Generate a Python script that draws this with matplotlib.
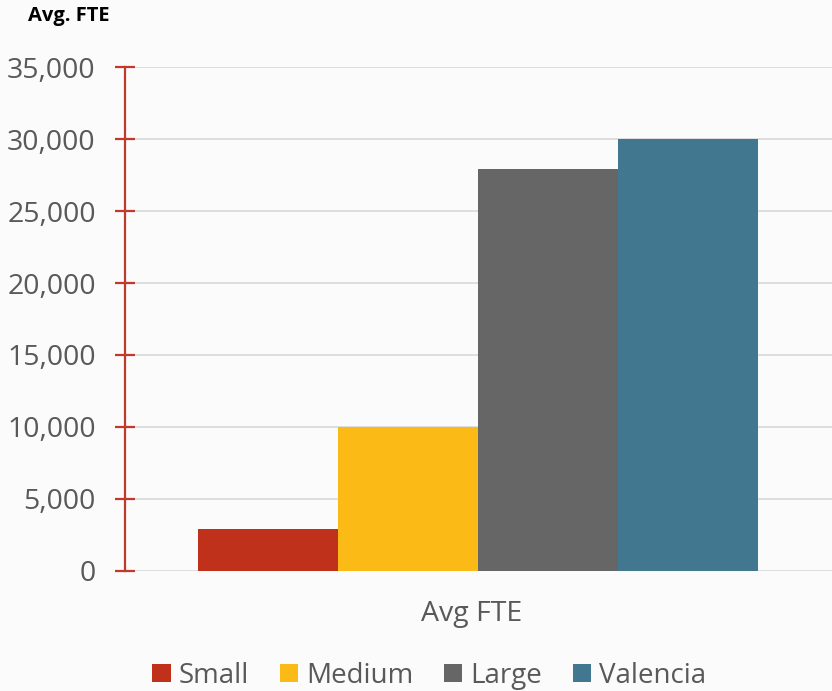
import matplotlib.pyplot as plt
import numpy as np

plt.rcParams['font.family'] = ['Open Sans', 'DejaVu Sans']

categories = ["Avg FTE"]
series_names = ["Small", "Medium", "Large", "Valencia"]
series_values = [2900, 10000, 27900, 30000]
colors = ["#BF311A", "#FBBA16", "#666666", "#41778F"]
y_ticks = [0, 5000, 10000, 15000, 20000, 25000, 30000, 35000]

bg = "#FBFBFB"
fig = plt.figure(figsize=(8.32, 6.91), dpi=100, facecolor=bg)
ax = fig.add_axes([0.1502, 0.1737, 0.8498, 0.7293], facecolor=bg)

width = 0.198
n = len(series_names)
offsets = (np.arange(n) - (n - 1) / 2) * width
for name, val, col, off in zip(series_names, series_values, colors, offsets):
    ax.bar(0 + off, val, width=width, color=col, label=name, zorder=3)

ax.set_xlim(-0.5, 0.5)
ax.set_ylim(0, 35000)
ax.set_yticks(y_ticks)
ax.set_yticklabels([f"{v:,}" for v in y_ticks])
ax.set_xticks([])
ax.set_xlabel(categories[0], fontsize=20.5, color="#595959")
ax.xaxis.set_label_coords(0.49, -0.058, transform=ax.transAxes)
ax.xaxis.label.set_va("top")

ax.yaxis.grid(True, color="#D9D9D9", linewidth=1.2, zorder=0)
for s in ["top", "right", "bottom"]:
    ax.spines[s].set_visible(False)
ax.spines["left"].set_color("#C0392B")
ax.spines["left"].set_linewidth(1.6)
ax.tick_params(axis="y", direction="inout", length=14, width=1.6, color="#C0392B",
               labelsize=20.5, labelcolor="#595959", pad=14)

fig.text(0.034, 0.977, "Avg. FTE", fontsize=14.5, fontweight="bold", color="black",
         ha="left", va="center")

leg = fig.legend(loc="center", bbox_to_anchor=(0.516, 0.022), ncol=4, frameon=False,
                 fontsize=20, labelcolor="#595959", handlelength=0.65, handleheight=0.65,
                 handletextpad=0.3, columnspacing=1.1)

fig.savefig("out.png", dpi=100, facecolor=bg)
